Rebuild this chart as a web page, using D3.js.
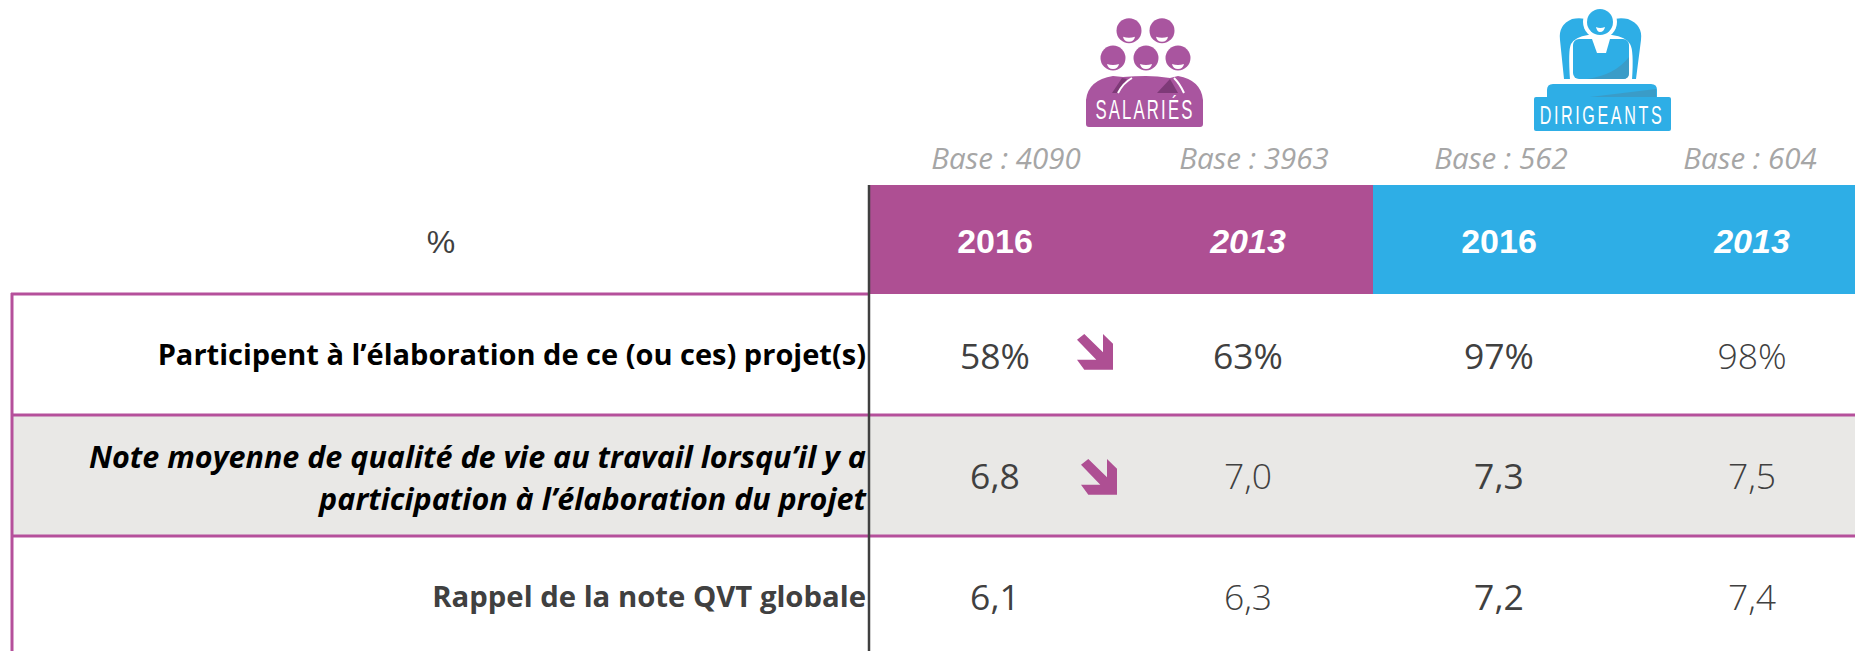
<!DOCTYPE html>
<html><head><meta charset="utf-8">
<script src="https://d3js.org/d3.v7.min.js"></script>
<style>html,body{margin:0;padding:0;background:#fff;overflow:hidden}svg{display:block}</style>
</head><body><svg id="c" width="1855" height="651"></svg>
<script>
const columns = ["sal2016","sal2013","dir2016","dir2013"];
const yearLabels = ["2016","2013","2016","2013"];
const baseLabels = ["Base : 4090","Base : 3963","Base : 562","Base : 604"];
const participation = [58,63,97,98];
const noteProjet = [6.8,7.0,7.3,7.5];
const noteGlobale = [6.1,6.3,7.2,7.4];
const rowLabels = [["Participent à l’élaboration de ce (ou ces) projet(s)"],["Note moyenne de qualité de vie au travail lorsqu’il y a","participation à l’élaboration du projet"],["Rappel de la note QVT globale"]];

const PURPLE="#ae4f93", LINE="#b5509b", BLUE="#2eaee6", GREY="#e9e8e6", DARK="#404040";
const svg=d3.select("#c");
const pct=v=>v+"%", note=v=>d3.format(".1f")(v).replace(".",",");
const rows=[{vals:participation,fmt:pct},{vals:noteProjet,fmt:note},{vals:noteGlobale,fmt:note}];

const centers=d3.scaleOrdinal().domain(columns).range([995,1248,1499,1752]);
const y=d3.scaleBand().domain([0,1,2]).range([294,657]);

// header bands
svg.append("rect").attr("x",870).attr("y",185).attr("width",503).attr("height",109).attr("fill",PURPLE);
svg.append("rect").attr("x",1373).attr("y",185).attr("width",482).attr("height",109).attr("fill",BLUE);
svg.append("rect").attr("x",12).attr("y",y(1)).attr("width",1843).attr("height",y.bandwidth()).attr("fill",GREY);

// row rules
svg.selectAll("line.r").data([294,415,536]).join("line").attr("class","r")
 .attr("x1",11).attr("x2",d=>d===294?869:1855).attr("y1",d=>d).attr("y2",d=>d)
 .attr("stroke",LINE).attr("stroke-width",3);
svg.append("line").attr("x1",12).attr("x2",12).attr("y1",293).attr("y2",651).attr("stroke",LINE).attr("stroke-width",3);
svg.append("line").attr("x1",869).attr("x2",869).attr("y1",185).attr("y2",651).attr("stroke",DARK).attr("stroke-width",2.5);

const F="'Open Sans',sans-serif", A="'Liberation Sans',Arial,sans-serif";
// headers
svg.append("text").attr("x",441).attr("y",253).attr("text-anchor","middle").attr("font-family",A).attr("font-size",32).attr("fill",DARK).text("%");
svg.selectAll("text.y").data(columns).join("text").attr("class","y")
 .attr("x",d=>centers(d)).attr("y",253).attr("text-anchor","middle").attr("font-family",A).attr("font-weight",700)
 .attr("font-style",(d,i)=>i%2?"italic":"normal").attr("font-size",34).attr("fill","#fff").text((d,i)=>yearLabels[i]);
svg.selectAll("text.b").data(columns).join("text").attr("class","b")
 .attr("x",(d,i)=>[1006,1254,1501,1750][i]).attr("y",169).attr("text-anchor","middle").attr("font-family",F).attr("font-style","italic")
 .attr("font-size",29.5).attr("fill","#a6a6a6").text((d,i)=>baseLabels[i]);

// row labels
const lblY=[[365],[468,510],[607]];
const lblSize=[29,30.5,29.3];
rowLabels.forEach((ls,r)=>ls.forEach((t,k)=>{
 svg.append("text").attr("x",866).attr("y",lblY[r][k]).attr("text-anchor","end").attr("font-family",F).attr("font-weight",700)
  .attr("font-style",r===1?"italic":"normal").attr("font-size",lblSize[r]).attr("fill",r===2?DARK:"#000").text(t);
}));

// values
const valY=[369,489,610];
rows.forEach((row,r)=>{
 svg.selectAll("text.v"+r).data(columns).join("text").attr("class","v"+r)
  .attr("x",d=>centers(d)).attr("y",valY[r]).attr("text-anchor","middle").attr("font-family",F)
  .attr("font-weight",(d,i)=>(i%2&&!(r===0&&i===1))?300:400).attr("font-size",35.5).attr("fill",DARK)
  .text((d,i)=>row.fmt(row.vals[i]));
});

// trend arrows
const arrowPts=[[0,5.7],[7.3,0],[26,18.3],[26,0],[36,9.7],[36,35.7],[7.3,35.7],[0,25.7],[19.3,25.7]];
svg.selectAll("path.a").data([[1077,334],[1081,459]]).join("path").attr("class","a")
 .attr("transform",d=>`translate(${d[0]},${d[1]})`).attr("d",d3.line()(arrowPts)+"Z").attr("fill",PURPLE);

// Salariés icon
const S="#a9559f";
const sal=svg.append("g");
[[1129,30.7],[1162,30.7],[1113,58],[1146,58],[1178,58]].forEach(c=>{
 sal.append("circle").attr("cx",c[0]).attr("cy",c[1]).attr("r",12.5).attr("fill",S);
 sal.append("path").attr("d",`M${c[0]-6},${c[1]+6}Q${c[0]},${c[1]+8} ${c[0]+6},${c[1]+6}Q${c[0]+5},${c[1]+11} ${c[0]},${c[1]+11}Q${c[0]-5},${c[1]+11} ${c[0]-6},${c[1]+6}Z`).attr("fill","#fff");
});
sal.append("path").attr("d","M1086,124V100Q1088,80 1113,76L1123,77Q1135,76 1146,76Q1157,76 1170,78L1178,76Q1201,80 1203,100V124Q1203,127 1200,127H1089Q1086,127 1086,124Z").attr("fill",S);
sal.append("path").attr("d","M1112,93L1122,78L1127,79L1117,93Z").attr("fill","#7e3a78");
sal.append("path").attr("d","M1157,93L1170,79L1178,93Z").attr("fill","#7e3a78");
sal.append("path").attr("d","M1118,93Q1123,83 1132,78").attr("fill","none").attr("stroke","#fff").attr("stroke-width",2);
sal.append("path").attr("d","M1174,78Q1180,84 1184,93").attr("fill","none").attr("stroke","#fff").attr("stroke-width",2);
sal.append("text").attr("transform","translate(1145,119) scale(0.62,1)").attr("text-anchor","middle").attr("font-family",A).attr("font-size",27).attr("letter-spacing",3.5).attr("fill","#fff").text("SALARIÉS");

// Dirigeants icon
const dir=svg.append("g");
dir.append("path").attr("d","M1564,79L1560,40Q1558,25 1572,19Q1586,16 1600,25Q1614,16 1628,19Q1643,25 1641,40L1636,79Z").attr("fill",BLUE);
dir.append("path").attr("d","M1570,80Q1568,50 1571,44Q1575,37 1588,35H1612Q1626,37 1630,44Q1634,50 1632,80Z").attr("fill","#fff");
dir.append("rect").attr("x",1573).attr("y",39).attr("width",56).attr("height",40).attr("rx",6).attr("fill",BLUE);
dir.append("path").attr("d","M1592,39L1597,53H1606L1610,39Z").attr("fill","#fff");
dir.append("path").attr("d","M1587,79Q1615,75 1629,57V73Q1629,79 1623,79Z").attr("fill","#3a9cc8");
dir.append("circle").attr("cx",1600).attr("cy",22).attr("r",17).attr("fill","#fff");
dir.append("circle").attr("cx",1600).attr("cy",22).attr("r",13).attr("fill",BLUE);
dir.append("path").attr("d","M1596,27Q1600,29 1605,27Q1604,32 1600,32Q1597,32 1596,27Z").attr("fill","#fff");
dir.append("path").attr("d","M1547,98V90Q1547,84 1553,84H1651Q1657,84 1657,90V98Z").attr("fill",BLUE);
dir.append("path").attr("d","M1590,97L1656,89V97Z").attr("fill","#3a9cc8");
dir.append("rect").attr("x",1534).attr("y",97).attr("width",137).attr("height",34).attr("rx",2).attr("fill",BLUE);
dir.append("text").attr("transform","translate(1602,124) scale(0.62,1)").attr("text-anchor","middle").attr("font-family",A).attr("font-size",26).attr("letter-spacing",4.2).attr("fill","#fff").text("DIRIGEANTS");
</script></body></html>
